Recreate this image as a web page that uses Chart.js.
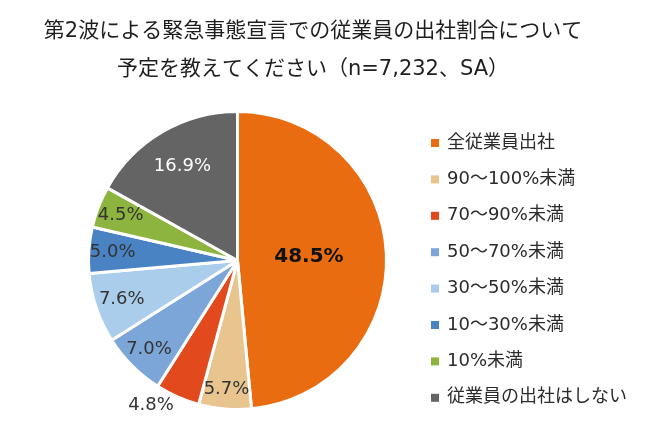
<!DOCTYPE html>
<html>
<head>
<meta charset="utf-8">
<script src="https://cdn.jsdelivr.net/npm/chart.js@4.4.0/dist/chart.umd.min.js"></script>
<style>
	html, body { margin: 0; padding: 0; background: #fff; }
</style>
</head>
<body>
<canvas id="shareChart" width="650" height="443"></canvas>
<script>
"use strict"

const titleLines = ["第2波による緊急事態宣言での従業員の出社割合について", "予定を教えてください（n=7,232、SA）"]
const categories = ["全従業員出社", "90～100%未満", "70～90%未満", "50～70%未満", "30～50%未満", "10～30%未満", "10%未満", "従業員の出社はしない"]
const shares = [48.5, 5.7, 4.8, 7.0, 7.6, 5.0, 4.5, 16.9]
const sliceColors = ["#E96D10", "#E8C48F", "#E2491C", "#7CA6D7", "#A9CDEB", "#4A83C3", "#8DB43F", "#646464"]

const latinJa = "'DejaVu Sans', 'Noto Sans CJK JP', sans-serif"

// title + legend drawn by hand so the pie can sit left of centre
const titleAndLegend = {
	id: "titleAndLegend",
	afterDraw(chart) {
		const ctx = chart.ctx
		ctx.save()
		ctx.textBaseline = "middle"

		ctx.fillStyle = "#1e1e1e"
		ctx.font = "21px " + latinJa
		ctx.textAlign = "center"
		titleLines.forEach((line, i) => {
			ctx.fillText(line, 313, 32 + i * 38)
		})

		ctx.font = "18px " + latinJa
		ctx.textAlign = "left"
		chart.data.labels.forEach((label, i) => {
			const y = 143 + i * 36.4
			ctx.fillStyle = chart.data.datasets[0].backgroundColor[i]
			ctx.fillRect(431, y - 4, 8, 8)
			ctx.fillStyle = "#2b2b2b"
			ctx.fillText(label, 447, y)
		})
		ctx.restore()
	},
}

// percentage labels on the slices
const sliceLabels = {
	id: "sliceLabels",
	afterDatasetsDraw(chart) {
		const ctx = chart.ctx
		const meta = chart.getDatasetMeta(0)
		ctx.save()
		ctx.textBaseline = "middle"
		meta.data.forEach((arc, i) => {
			const p = arc.getProps(["x", "y", "startAngle", "endAngle", "outerRadius"], true)
			const mid = (p.startAngle + p.endAngle) / 2
			let k = 0.84
			let align = "center"
			ctx.font = "18px 'DejaVu Sans', sans-serif"
			ctx.fillStyle = "#333333"
			if (i === 0) {
				k = 0.48
				ctx.font = "bold 20px 'DejaVu Sans', sans-serif"
				ctx.fillStyle = "#111111"
			}
			if (i === 1) k = 0.87
			if (i === 2) {
				// too thin, label sits outside
				k = 1.06
				align = "right"
			}
			if (i === 4) k = 0.82
			if (i === 7) {
				k = 0.73
				ctx.fillStyle = "#ffffff"
			}
			ctx.textAlign = align
			const r = p.outerRadius * k
			const text = chart.data.datasets[0].data[i].toFixed(1) + "%"
			ctx.fillText(text, p.x + Math.cos(mid) * r, p.y + Math.sin(mid) * r)
		})
		ctx.restore()
	},
}

const ctx = document.getElementById("shareChart")
const shareChart = new Chart(ctx, {
	type: "pie",
	data: {
		labels: categories,
		datasets: [
			{
				data: shares,
				backgroundColor: sliceColors,
				borderColor: "#ffffff",
				borderWidth: 3,
			},
		],
	},
	options: {
		responsive: false,
		animation: false,
		layout: {
			padding: { top: 110, bottom: 32, left: 87, right: 262 },
		},
		plugins: {
			title: { display: false },
			legend: { display: false },
			tooltip: { enabled: false },
		},
	},
	plugins: [sliceLabels, titleAndLegend],
})
</script>
</body>
</html>
